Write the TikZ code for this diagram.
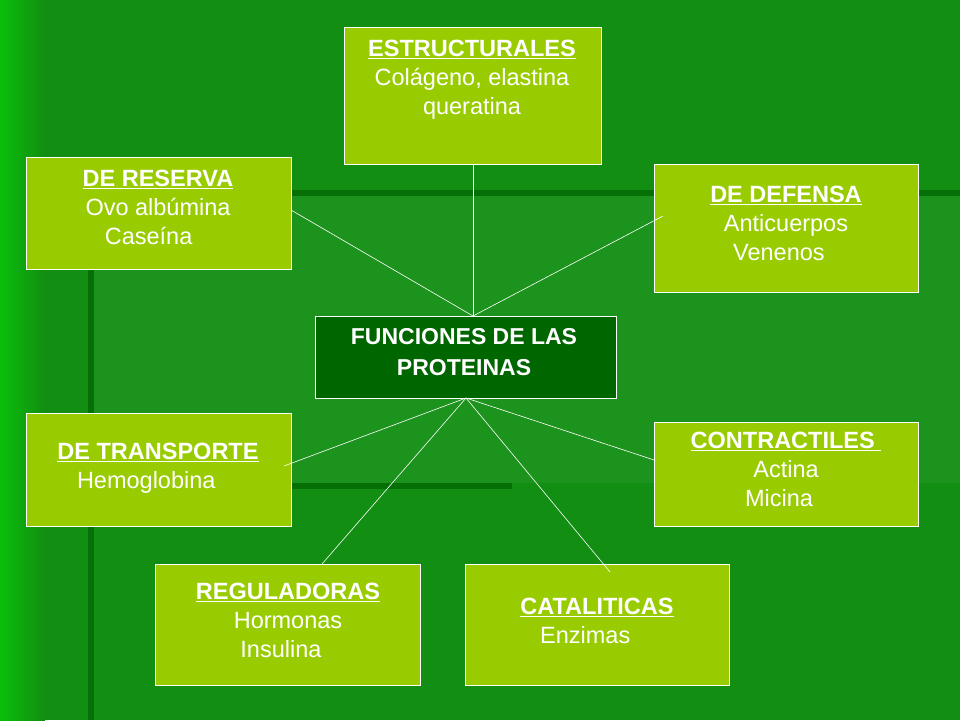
\documentclass[tikz,border=0pt]{standalone}
\usepackage{fontspec}
\setmainfont{Liberation Sans}
\definecolor{bg}{RGB}{18,142,18}
\definecolor{bgd}{RGB}{6,112,6}
\definecolor{bgl}{RGB}{10,190,10}
\definecolor{boxg}{RGB}{153,204,0}
\definecolor{cen}{RGB}{0,102,0}
\tikzset{x=1pt,y=-1pt,
 box/.style={draw=white,line width=0.8pt,fill=boxg},
 lab/.style={text=white,font=\fontsize{23.5}{29}\selectfont,align=center,inner sep=0pt},
 con/.style={draw=white,line width=0.6pt}}
\begin{document}
\begin{tikzpicture}
\useasboundingbox (0,0) rectangle (960,720);
\fill[bg] (0,0) rectangle (960,720);
\shade[left color=bgl,right color=bg] (0,0) rectangle (45,720);
\fill[bgd] (90,190) rectangle (960,196);
\fill[bgd] (88,190) rectangle (94,720);
\fill[bgd] (90,483) rectangle (512,489);
\fill[bg!85!white,opacity=0.3] (94,196) rectangle (960,483);
% boxes
\path[box] (344,27) rectangle (601,164);
\coordinate (eS) at (473,164);
\path[box] (26,157) rectangle (291,269);
\path[box] (654,164) rectangle (918,292);
\path[box] (26,413) rectangle (291,526);
\path[box] (654,422) rectangle (918,526);
\path[box] (155,564) rectangle (420,685);
\path[box] (465,564) rectangle (729,685);
\path[draw=white,line width=0.8pt,fill=cen] (315,316) rectangle (616,398);
\coordinate (ct) at (473,316);
\coordinate (cb) at (466,398);
\coordinate (r) at (291,210);
\coordinate (d) at (663,216);
\coordinate (t) at (284,466);
\coordinate (g) at (322,564);
\coordinate (k) at (610,572);
\coordinate (c) at (654,460);
\draw[con] (eS) -- (ct);
\draw[con] (r) -- (ct);
\draw[con] (d) -- (ct);
\draw[con] (cb) -- (t);
\draw[con] (cb) -- (g);
\draw[con] (cb) -- (k);
\draw[con] (cb) -- (c);
% texts
\node[lab,anchor=north] (te) at (472,40) {\textbf{\underline{ESTRUCTURALES}}\\Colágeno, elastina\\queratina};
\node[lab,anchor=north] (tr) at (158,170) {\textbf{\underline{DE RESERVA}}\\Ovo albúmina\\\hspace*{-0.8em}Caseína};
\node[lab,anchor=north] (td) at (786,186) {\textbf{\underline{DE DEFENSA}}\\Anticuerpos\\\hspace*{-0.6em}Venenos};
\node[lab,anchor=north,font=\fontsize{23}{31}\selectfont\bfseries] (tc) at (464,328) {FUNCIONES DE LAS\\PROTEINAS};
\node[lab,anchor=north] (tt) at (158,443) {\textbf{\underline{DE TRANSPORTE}}\\\hspace*{-1em}Hemoglobina};
\node[lab,anchor=north] (tk) at (786,432) {\textbf{\underline{CONTRACTILES }}\\Actina\\\hspace*{-0.6em}Micina};
\node[lab,anchor=north] (tg) at (288,583) {\textbf{\underline{REGULADORAS}}\\Hormonas\\\hspace*{-0.6em}Insulina};
\node[lab,anchor=north] (tca) at (597,598) {\textbf{\underline{CATALITICAS}}\\\hspace*{-1em}Enzimas};
\end{tikzpicture}
\end{document}
